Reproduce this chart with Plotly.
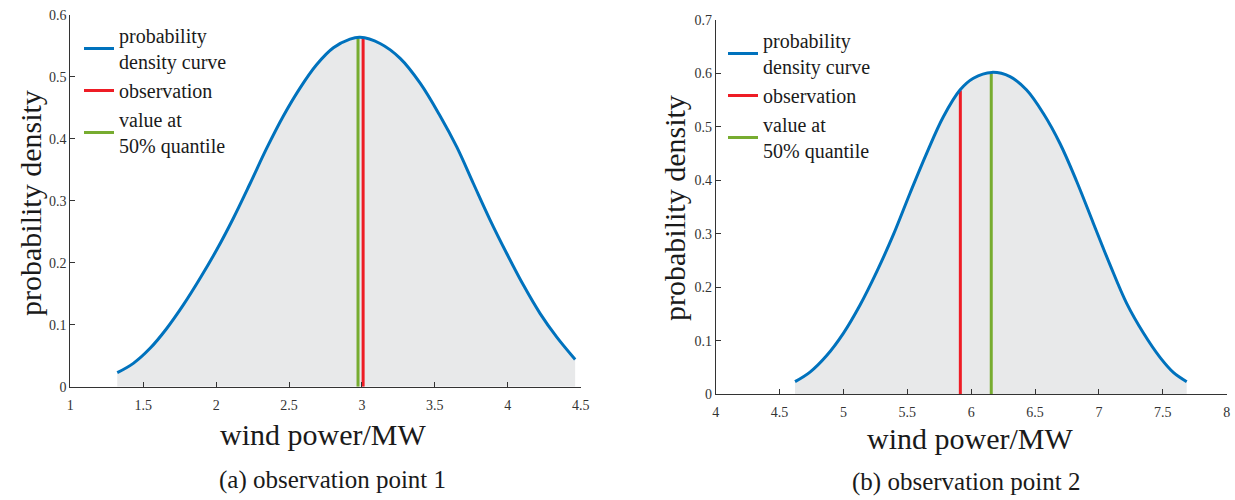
import plotly.graph_objects as go

# ---------------- data ----------------
# (a) observation point 1
x_pdf_a = [1.322, 1.432, 1.547, 1.661, 1.775, 1.890, 2.004, 2.118, 2.233, 2.347,
           2.461, 2.575, 2.690, 2.804, 2.918, 2.987, 3.124, 3.262, 3.399, 3.536,
           3.650, 3.764, 3.879, 3.993, 4.107, 4.222, 4.336, 4.462]
y_pdf_a = [0.0226, 0.0377, 0.062, 0.094, 0.132, 0.175, 0.221, 0.272, 0.328, 0.385,
           0.437, 0.482, 0.520, 0.547, 0.561, 0.564, 0.554, 0.530, 0.490, 0.437,
           0.387, 0.328, 0.269, 0.215, 0.164, 0.118, 0.080, 0.044]
obs_a = 3.008
obs_a_height = 0.563
q50_a = 2.973
q50_a_height = 0.563

# (b) observation point 2
x_pdf_b = [4.621, 4.738, 4.869, 4.999, 5.130, 5.260, 5.390, 5.521, 5.652, 5.782,
           5.912, 6.017, 6.160, 6.304, 6.434, 6.564, 6.695, 6.826, 6.956, 7.087,
           7.217, 7.347, 7.478, 7.582, 7.687]
y_pdf_b = [0.0236, 0.0415, 0.0725, 0.114, 0.167, 0.229, 0.298, 0.376, 0.451, 0.519,
           0.569, 0.591, 0.602, 0.594, 0.569, 0.5255, 0.469, 0.398, 0.320, 0.242,
           0.170, 0.115, 0.069, 0.041, 0.0236]
obs_b = 5.915
obs_b_height = 0.568
q50_b = 6.157
q50_b_height = 0.602

x_ticks_a = [1, 1.5, 2, 2.5, 3, 3.5, 4, 4.5]
y_ticks_a = [0, 0.1, 0.2, 0.3, 0.4, 0.5, 0.6]
x_ticks_b = [4, 4.5, 5, 5.5, 6, 6.5, 7, 7.5, 8]
y_ticks_b = [0, 0.1, 0.2, 0.3, 0.4, 0.5, 0.6, 0.7]

legend_names = ["probability<br>density curve", "observation", "value at<br>50% quantile"]
captions = ["(a) observation point 1", "(b) observation point 2"]
x_title = "wind power/MW"
y_title = "probability density"

# ---------------- style ----------------
W, H = 1235, 500
SERIF = "Liberation Serif"
BLUE = "#0072BD"
RED = "#EE1C25"
GREEN = "#77AC30"
FILL = "#E8E9EA"
AXIS = "#333333"
TXT = "#1a1a1a"

def px(x):
    return x / W

def py(y):
    return 1 - y / H

fig = go.Figure()

def add_panel(xs, ys, obs, obs_h, q50, q50_h, xa, ya, legend):
    # shaded area under the density curve
    fig.add_trace(go.Scatter(x=xs, y=ys, mode="lines", line=dict(width=0, shape="spline"),
                             fill="tozeroy", fillcolor=FILL, showlegend=False,
                             hoverinfo="skip", xaxis=xa, yaxis=ya))
    fig.add_trace(go.Scatter(x=[obs, obs], y=[0, obs_h], mode="lines",
                             line=dict(color=RED, width=3), name=legend_names[1],
                             legend=legend, legendrank=2, xaxis=xa, yaxis=ya))
    fig.add_trace(go.Scatter(x=[q50, q50], y=[0, q50_h], mode="lines",
                             line=dict(color=GREEN, width=3), name=legend_names[2],
                             legend=legend, legendrank=3, xaxis=xa, yaxis=ya))
    fig.add_trace(go.Scatter(x=xs, y=ys, mode="lines",
                             line=dict(color=BLUE, width=3, shape="spline"),
                             name=legend_names[0], legend=legend, legendrank=1,
                             xaxis=xa, yaxis=ya))

add_panel(x_pdf_a, y_pdf_a, obs_a, obs_a_height, q50_a, q50_a_height, "x", "y", "legend")
add_panel(x_pdf_b, y_pdf_b, obs_b, obs_b_height, q50_b, q50_b_height, "x2", "y2", "legend2")

axis_common = dict(showgrid=False, zeroline=False, showline=True, linecolor=AXIS,
                   linewidth=1, ticks="inside", ticklen=5, tickcolor=AXIS,
                   tickfont=dict(family=SERIF, size=14, color="#333333"),
                   mirror=False, fixedrange=True, automargin=False)

leg_common = dict(font=dict(family=SERIF, size=20, color=TXT), bgcolor="rgba(0,0,0,0)",
                  xanchor="left", yanchor="top", valign="middle",
                  traceorder="normal", itemclick=False, itemdoubleclick=False)

fig.update_layout(
    width=W, height=H,
    margin=dict(l=0, r=0, t=0, b=0, autoexpand=False),
    paper_bgcolor="white", plot_bgcolor="white",
    showlegend=True,
    xaxis=dict(domain=[px(70.3), px(580.7)], range=[1, 4.5], tickvals=x_ticks_a,
               ticktext=[f"{v:g}" for v in x_ticks_a], anchor="y",
               ticklabelstandoff=5, **axis_common),
    yaxis=dict(domain=[py(386.7), py(15)], range=[0, 0.6], tickvals=y_ticks_a,
               ticktext=[f"{v:g}" for v in y_ticks_a], anchor="x", **axis_common),
    xaxis2=dict(domain=[px(715.7), px(1226.7)], range=[4, 8], tickvals=x_ticks_b,
                ticktext=[f"{v:g}" for v in x_ticks_b], anchor="y2",
                ticklabelstandoff=5, **axis_common),
    yaxis2=dict(domain=[py(394.3), py(20)], range=[0, 0.7], tickvals=y_ticks_b,
                ticktext=[f"{v:g}" for v in y_ticks_b], anchor="x2", **axis_common),
    legend=dict(x=px(79), y=py(16), **leg_common),
    legend2=dict(x=px(723), y=py(21), **leg_common),
)

annotations = [
    dict(text=y_title, x=px(30), y=py(203), textangle=-90, font=dict(size=30)),
    dict(text=y_title, x=px(675), y=py(208), textangle=-90, font=dict(size=30)),
    dict(text=x_title, x=px(322.5), y=py(434), font=dict(size=30)),
    dict(text=x_title, x=px(970), y=py(438.5), font=dict(size=30)),
    dict(text=captions[0], x=px(332), y=py(480), font=dict(size=25)),
    dict(text=captions[1], x=px(966), y=py(482), font=dict(size=25)),
]
for a in annotations:
    a.update(xref="paper", yref="paper", showarrow=False, xanchor="center", yanchor="middle")
    a["font"].update(family=SERIF, color=TXT)
    fig.add_annotation(**a)

fig.write_html("out.html", include_plotlyjs=True, config={"displayModeBar": False},
               post_script="document.body.style.margin='0';document.body.style.overflow='hidden';")
